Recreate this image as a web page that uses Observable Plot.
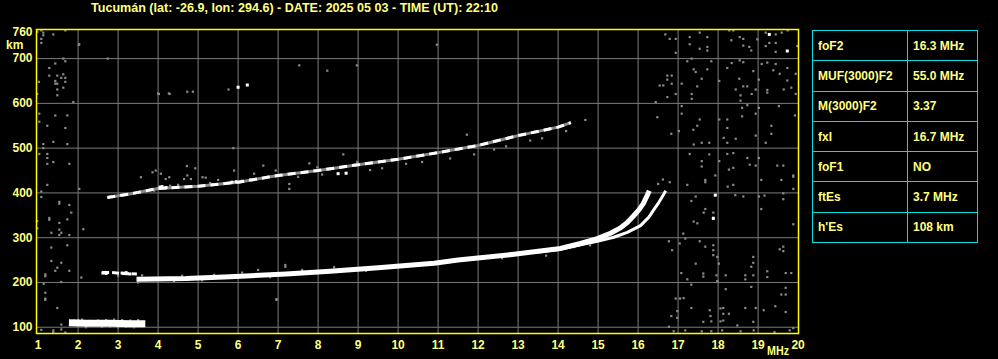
<!DOCTYPE html>
<html>
<head>
<meta charset="utf-8">
<script src="https://cdn.jsdelivr.net/npm/d3@7"></script>
<script src="https://cdn.jsdelivr.net/npm/@observablehq/plot@0.6"></script>
<style>
  html, body { margin: 0; padding: 0; background: #000; }
  #wrap { position: relative; width: 998px; height: 359px; overflow: hidden; background: #000; }
  #params { position: absolute; left: 812px; top: 30px; border-collapse: collapse; font: bold 12px "Liberation Sans", Arial, sans-serif; color: #ffff80; }
  #params td { border: 1px solid #00e0e0; height: 29px; padding: 0 0 0 5px; box-sizing: border-box; }
  #params td.k { width: 95px; }
  #params td.v { width: 70px; }
</style>
</head>
<body>
<div id="wrap"></div>
<script>
// ---------- data ----------
const title = "Tucumán (lat: -26.9, lon: 294.6) - DATE: 2025 05 03 - TIME (UT): 22:10";
const xTicks = [1,2,3,4,5,6,7,8,9,10,11,12,13,14,15,16,17,18,19,20];
const xGrid = [2,3,4,5,6,7,8,9,10,11,12,13,14,15,16,17,18,19];
const yTicks = [100,200,300,400,500,600,700,760];
const yGrid = [100,200,300,400,500,600,700];
const paramNames = ["foF2","MUF(3000)F2","M(3000)F2","fxI","foF1","ftEs","h'Es"];
const paramValues = ["16.3 MHz","55.0 MHz","3.37","16.7 MHz","NO","3.7 MHz","108 km"];

// F2 ordinary trace [MHz, km]
const f2oFreq = [3.46,4.7,5.8,7.2,8.3,9.5,10.9,11.5,12.9,14.06,14.56,14.98,15.31,15.56,15.73,15.89,16.02,16.13,16.21,16.28];
const f2oHgt  = [207,209,213,219,225,233,243,250,263,276,287,298,310,322,334,349,362,376,391,405];
// F2 extraordinary trace
const f2xFreq = [13.5,14.06,14.56,14.98,15.39,15.73,16.06,16.27,16.39,16.52,16.6,16.69];
const f2xHgt  = [268,274,284,292,301,312,327,346,362,379,391,405];
// second hop (2F) trace
const f2hopFreq = [2.73,3.32,4.0,5.0,6.0,7.0,8.0,9.0,10.0,11.0,12.0,13.0,14.0,14.32];
const f2hopHgt  = [390,398,410,415,424,439,450,463,475,490,506,528,547,557];
// sporadic E trace
const esFreq = [1.77,2.2,2.8,3.3,3.68];
const esHgt  = [110,109,109,108,108];
// short echo near 220 km
const e2Freq = [2.6,2.85,3.06,3.47];
const e2Hgt  = [222,222,220,219];
// isolated white echoes
const whiteFreq = [6.0,6.23,19.28,19.73,17.93,17.88,2.62,2.7,3.1,3.2,3.3,4.05,4.1,4.2,5.85,5.95,6.1,8.5,8.7];
const whiteHgt  = [636,641,754,717,395,343,221,220,221,222,219,413,414,412,424,425,426,443,444];

// gray noise echoes
const noiseFreq = [
 16.68,16.79,16.94,16.94,17.29,17.29,17.54,17.73,17.73,17.73,17.54,18.28,18.38,18.33,18.54,18.63,18.63,18.78,18.83,18.98,
 19.19,19.19,19.28,19.44,19.44,19.44,19.59,19.74,19.98,17.23,17.34,17.83,17.39,17.44,17.73,16.73,16.84,16.73,16.54,16.63,
 16.84,16.73,16.94,17.09,17.34,17.34,17.48,17.59,18.03,18.23,18.34,18.54,18.63,18.53,18.44,18.56,18.56,18.63,18.73,18.84,
 18.88,18.94,19.02,19.09,19.23,19.23,19.23,19.38,19.44,19.54,19.73,19.73,19.64,19.83,19.94,19.94,16.44,16.48,16.83,17.02,
 17.09,17.09,17.38,17.48,17.54,18.03,18.23,18.23,18.14,18.23,18.44,18.6,18.6,18.73,18.94,19.02,18.94,19.19,19.33,19.33,
 19.52,19.92,17.29,17.39,17.59,17.78,17.78,17.59,17.59,18.03,18.23,18.38,18.27,18.38,18.73,18.79,18.94,19.02,19.48,19.63,
 19.88,17.93,
 16.79,17.23,17.68,17.68,18.24,18.38,19.08,19.58,19.88,19.88,17.33,17.44,17.64,17.68,17.88,17.88,18.43,18.63,19.02,19.16,
 19.08,19.63,19.63,19.88,17.39,17.48,17.13,16.77,17.04,17.18,17.54,17.68,17.88,17.88,17.88,17.98,18.02,17.44,17.08,17.23,
 17.63,17.63,17.96,18.19,18.68,18.68,18.83,18.88,18.88,18.88,19.23,19.23,19.69,19.83,19.54,19.63,19.63,16.85,17.33,17.98,
 18.19,18.83,19.69,19.69,19.58,16.94,17.05,17.14,17.33,17.79,17.81,18.06,18.13,18.13,18.27,18.06,18.13,17.63,17.83,18.48,
 18.68,18.94,18.88,19.14,19.43,19.69,19.88,16.98,16.98,16.83,16.77,16.89,17.18,17.59,17.83,18.1,18.56,18.89,19.41,19.79,
 16.62,16.5,
 0.98,1.08,1.13,1.13,1.08,1.08,1.38,1.68,2.03,1.63,1.68,1.43,1.28,1.28,1.48,1.58,1.63,1.68,1.43,1.43,
 1.48,1.68,1.63,1.48,1.48,1.02,0.98,1.88,2.74,4.02,4.29,1.03,1.43,1.73,1.03,1.23,1.68,1.13,1.38,1.73,
 1.13,1.03,1.23,1.23,1.23,1.38,1.78,
 1.23,1.08,1.08,2.03,1.53,1.53,1.78,1.83,1.28,1.28,1.73,1.53,0.98,0.98,1.33,1.53,1.58,1.53,1.78,2.13,
 1.33,1.73,1.33,1.58,1.48,1.43,1.78,1.18,1.18,2.08,1.58,1.14,1.18,1.18,1.18,1.48,1.58,1.08,1.38,1.38,1.58,1.68,
 2.02,10.97,7.53,8.23,8.97,14.68,5.88,4.0,4.27,4.73,4.87,11.72,4.72,4.93,6.96,6.96,7.18,7.18,
 3.57,3.86,3.94,4.07,4.19,4.28,4.65,4.73,4.82,5.11,5.19,5.9,6.4,6.63,6.94,7.78,7.98,7.28,7.28,8.63,8.98,5.76,
 3.6,3.7,3.9,4.3,4.5,5.3,5.5,6.3,7.5,8.1,9.3,9.6,10.2,10.6,11.3,11.9,12.4,12.7,13.3,13.6,14.2,
 1.9,2.0,2.1,2.3,2.5,2.7,2.9,3.1,3.3,3.5,2.2,2.6,3.0,3.4,2.8,3.2,
 3.0,3.5,3.6,4.4,4.6,5.1,5.4,6.1,6.5,6.8,7.6,8.4,9.2,9.9,10.4,11.1,11.8,12.3,12.6,13.2,13.7,14.4,14.8
];
const noiseHgt = [
 754,744,744,713,748,732,758,748,726,718,722,763,763,741,748,744,729,726,718,743,
 758,728,735,754,735,715,758,763,728,694,700,694,676,670,676,662,662,653,640,640,
 644,614,621,644,621,610,638,655,650,679,690,696,692,655,631,618,606,638,638,621,
 672,631,653,688,691,624,630,674,688,666,679,651,631,635,666,621,603,569,532,538,
 594,577,541,550,564,564,564,545,523,512,521,590,571,596,577,590,528,512,550,532,
 594,573,487,508,512,512,486,471,459,471,487,489,452,456,478,463,461,478,461,461,
 439,439,
 424,418,429,424,414,418,429,429,436,409,382,392,356,364,356,345,395,392,392,394,
 364,399,386,330,336,332,309,292,287,298,292,280,283,272,261,257,242,242,221,207,
 220,213,216,216,216,207,235,244,257,216,225,212,221,221,274,280,270,272,195,203,
 185,190,188,173,173,164,164,165,143,138,125,142,143,130,130,113,115,112,113,104,
 143,143,112,138,147,134,98,136,121,125,101,91,93,91,91,93,91,93,89,93,
 430,420,
 760,763,758,752,744,735,754,763,732,700,694,689,679,662,662,657,665,657,650,644,
 644,648,635,631,618,648,621,603,700,621,621,577,573,573,559,550,545,509,514,509,
 500,487,487,478,465,469,465,
 418,403,391,409,380,376,373,356,344,340,341,333,337,321,311,318,311,306,306,319,
 278,283,248,244,233,226,226,218,214,211,201,197,177,164,161,143,106,94,93,89,95,88,
 731,731,685,673,685,563,500,622,622,626,626,530,460,455,163,161,239,235,
 435,446,450,443,431,435,431,439,431,435,434,450,443,461,450,466,457,420,409,486,469,631,
 402,404,405,416,418,422,429,430,436,441,451,455,465,469,477,486,497,504,517,522,538,
 115,116,117,114,115,116,117,116,115,116,100,101,100,100,102,101,
 215,200,216,203,215,205,217,222,228,212,228,234,226,238,238,246,252,257,254,266,260,279,283
];

// ---------- build ----------
const toRows = (fs, hs) => fs.map((f, i) => ({f, h: hs[i]}));
const noise = toRows(noiseFreq, noiseHgt);
const f2o = toRows(f2oFreq, f2oHgt);
const f2x = toRows(f2xFreq, f2xHgt);
const f2hop = toRows(f2hopFreq, f2hopHgt);
const es = toRows(esFreq, esHgt);
const e2 = toRows(e2Freq, e2Hgt);
const whites = toRows(whiteFreq, whiteHgt);

const YEL = "#ffff80";
const FRAME = "#ffff00";
const GRID = "#7c7c7c";
const NOISE = "#8a8a8a";

const chart = Plot.plot({
  width: 998,
  height: 359,
  marginLeft: 36,
  marginRight: 200,
  marginTop: 29,
  marginBottom: 26,
  style: {background: "#000", color: YEL, fontFamily: "'Liberation Sans', Arial, sans-serif", fontSize: "12px", fontWeight: "bold"},
  x: {domain: [0.96, 20.01]},
  y: {domain: [86, 765]},
  marks: [
    Plot.gridX(xGrid, {stroke: GRID, strokeOpacity: 1, strokeWidth: 1}),
    Plot.gridY(yGrid, {stroke: GRID, strokeOpacity: 1, strokeWidth: 1}),
    Plot.dot(noise, {x: "f", y: "h", symbol: "square", r: 1.25, fill: NOISE, stroke: null}),
    Plot.line(es, {x: "f", y: "h", stroke: "#fff", strokeWidth: 7, strokeLinecap: "butt"}),
    Plot.line(e2, {x: "f", y: "h", stroke: "#fff", strokeWidth: 3, strokeDasharray: "7,3", strokeLinecap: "butt"}),
    Plot.line(f2hop, {x: "f", y: "h", stroke: NOISE, strokeWidth: 3, strokeLinecap: "butt"}),
    Plot.line(f2hop, {x: "f", y: "h", stroke: "#fff", strokeWidth: 3, strokeDasharray: "8,5", strokeLinecap: "butt"}),
    Plot.line(f2o, {x: "f", y: "h", stroke: "#fff", strokeWidth: 5, strokeLinecap: "butt"}),
    Plot.line(f2x, {x: "f", y: "h", stroke: "#fff", strokeWidth: 3, strokeLinecap: "butt"}),
    Plot.dot(whites, {x: "f", y: "h", symbol: "square", r: 1.7, fill: "#fff", stroke: null}),
    Plot.frame({stroke: FRAME, strokeWidth: 1.5}),
    Plot.axisX(xTicks, {tickSize: 0, tickPadding: 7, fill: YEL, fontSize: 12, fontWeight: "bold", label: null}),
    Plot.axisY(yTicks, {tickSize: 0, tickPadding: 4, fill: YEL, fontSize: 12, fontWeight: "bold", label: null})
  ]
});

const wrap = document.getElementById("wrap");
wrap.appendChild(chart);

// annotations (title, unit labels)
const svg = d3.select(chart);
const addText = (txt, x, y, opts = {}) => {
  const t = svg.append("text").attr("x", x).attr("y", y).text(txt)
    .attr("text-anchor", "start")
    .attr("fill", YEL).attr("font-weight", "bold")
    .attr("font-family", "'Liberation Sans', Arial, sans-serif")
    .attr("font-size", opts.size || 12);
  if (opts.len) t.attr("textLength", opts.len).attr("lengthAdjust", "spacingAndGlyphs");
  return t;
};
addText(title, 91, 12, {size: 12.5, len: 407});
addText("km", 6, 49, {size: 12});
addText("MHz", 767, 355, {size: 12, len: 22});

// parameter table
const table = d3.select(wrap).append("table").attr("id", "params");
paramNames.forEach((n, i) => {
  const tr = table.append("tr");
  tr.append("td").attr("class", "k").text(n);
  tr.append("td").attr("class", "v").text(paramValues[i]);
});
table.selectAll("tr").style("height", "30.3px");
</script>
</body>
</html>
